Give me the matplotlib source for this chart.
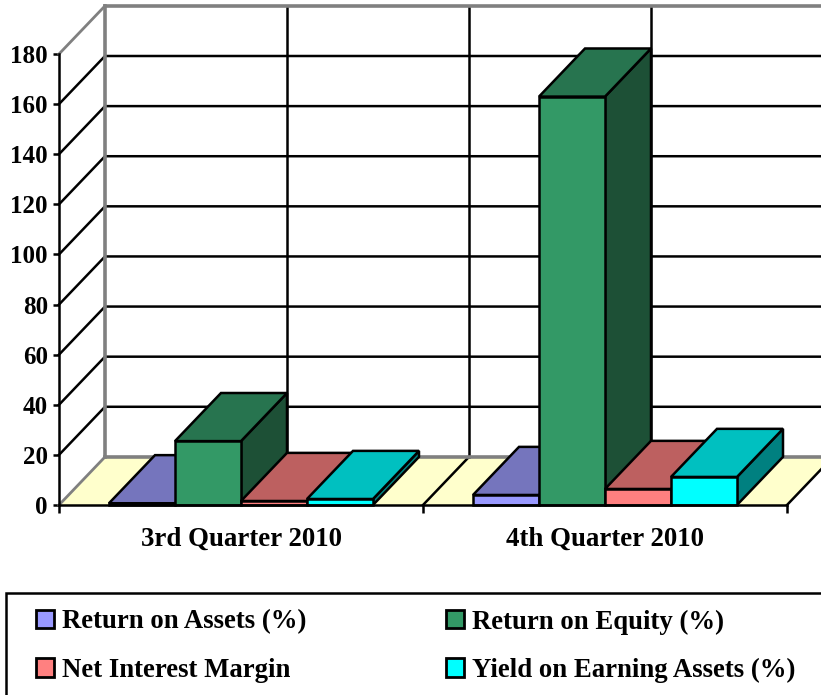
import matplotlib
matplotlib.use('Agg')
import matplotlib.pyplot as plt
from matplotlib.patches import Patch, Polygon, Rectangle

categories = ["3rd Quarter 2010", "4th Quarter 2010"]
series = ["Return on Assets (%)", "Return on Equity (%)",
          "Net Interest Margin", "Yield on Earning Assets (%)"]
roa = [0.7, 4.0]
roe = [25.5, 163.0]
nim = [1.6, 6.4]
yld = [2.4, 11.2]
values = [roa, roe, nim, yld]
colors = ["#9999FF", "#339966", "#FF8080", "#00FFFF"]
top_colors = ["#7575BD", "#27744F", "#BD6060", "#00C0C0"]
side_colors = ["#4D4D80", "#1D5036", "#804040", "#008080"]
yticks = list(range(0, 181, 20))

W, H = 821, 695
plt.rcParams['font.family'] = ['Liberation Serif', 'DejaVu Serif']
plt.rcParams['font.weight'] = 'bold'
fig = plt.figure(figsize=(W / 100, H / 100), dpi=100)
ax = fig.add_axes([59 / W, (H - 505) / H, 728 / W, 451 / H])
ax.set_xlim(0, 2)
ax.set_ylim(0, 180)
ax.patch.set_visible(False)

# oblique offset of the back wall, in data units
dx = 46 / 364
dy = 19.2
gap = 50 / 364
bw = (1 - 2 * gap) / 4
lw = 1.8
gray = "#808080"

# floor
ax.add_patch(Polygon([(0, 0), (2, 0), (2 + dx, dy), (dx, dy)], fc="#FFFFCC", ec="none",
                     clip_on=False, zorder=1))
for x in [1, 2]:
    ax.plot([x, x + dx], [0, dy], color="black", lw=lw, clip_on=False, zorder=2)

# walls
for y in yticks[1:-1]:
    ax.plot([0, dx, 2 + dx], [y, y + dy, y + dy], color="black", lw=lw, clip_on=False, zorder=2)
for x in [0.5, 1, 1.5, 2]:
    ax.plot([x + dx, x + dx], [dy, 180 + dy], color="black", lw=lw, clip_on=False, zorder=2)
ax.plot([dx, 2 + dx], [dy, dy], color=gray, lw=2.6, clip_on=False, zorder=2.2)
ax.plot([dx, 2 + dx], [180 + dy, 180 + dy], color=gray, lw=2.6, clip_on=False, zorder=2.2)
ax.plot([dx, dx], [dy, 180 + dy], color=gray, lw=2.6, clip_on=False, zorder=2.2)
ax.plot([0, dx], [0, dy], color=gray, lw=2, clip_on=False, zorder=2.2)
ax.plot([0, dx], [180, 180 + dy], color=gray, lw=2, clip_on=False, zorder=2.2)

# bars, left to right so the nearer faces overlap correctly
z = 3
for c in range(len(categories)):
    for k, vals in enumerate(values):
        v = vals[c]
        x0 = c + gap + k * bw
        x1 = x0 + bw
        faces = [
            ([(x1, 0), (x1 + dx, dy), (x1 + dx, v + dy), (x1, v)], side_colors[k]),
            ([(x0, v), (x1, v), (x1 + dx, v + dy), (x0 + dx, v + dy)], top_colors[k]),
            ([(x0, 0), (x1, 0), (x1, v), (x0, v)], colors[k]),
        ]
        for pts, col in faces:
            ax.add_patch(Polygon(pts, fc=col, ec="black", lw=lw, joinstyle='miter',
                                 clip_on=False, zorder=z))
            z += 1

for s in ["top", "right"]:
    ax.spines[s].set_visible(False)
for s in ["left", "bottom"]:
    ax.spines[s].set_linewidth(lw)
    ax.spines[s].set_zorder(z + 1)

ax.set_yticks(yticks)
ax.set_xticks([0, 1, 2])
ax.set_xticklabels([])
ax.set_xticks([0.5, 1.5], minor=True)
ax.set_xticklabels(categories, minor=True)
ax.tick_params(axis='y', length=4, width=lw, pad=4, labelsize=18)
ax.tick_params(axis='x', which='major', length=5.5, width=lw)
ax.tick_params(axis='x', which='minor', length=0, pad=16, labelsize=19.4)

# legend box runs off the right and bottom of the picture
fig.add_artist(Rectangle((6 / W, -10 / H), 900 / W, (H - 593 + 10) / H, fc="white", ec="black",
                         lw=1.8, transform=fig.transFigure))
handles = [Patch(fc=colors[k], ec="black", lw=2, label=series[k]) for k in range(4)]
# order=column first, so list goes ROA, NIM, ROE, Yield
fig.legend([handles[0], handles[2], handles[1], handles[3]],
           [series[0], series[2], series[1], series[3]],
           ncol=2, frameon=False, fontsize=19.3, loc='lower left',
           bbox_to_anchor=(36 / W, 12 / H), borderaxespad=0, borderpad=0,
           handlelength=0.67, handleheight=0.67, handletextpad=0.3,
           columnspacing=5.2, labelspacing=0.87)

plt.savefig("out.png", dpi=100)
